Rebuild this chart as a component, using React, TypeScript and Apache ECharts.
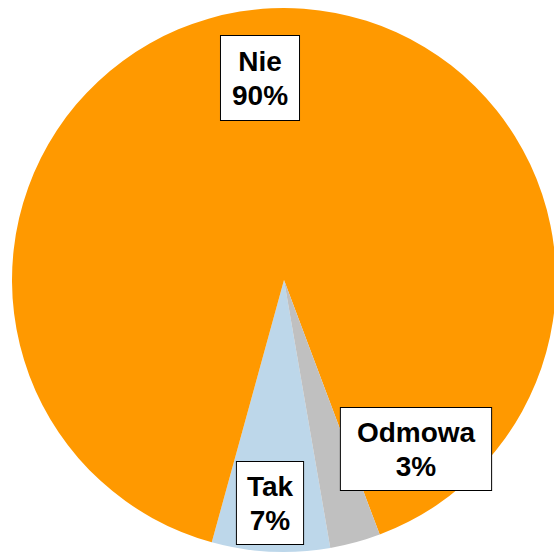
import React, { useEffect, useRef } from "react";
import * as echarts from "echarts";

const categories = ["Tak", "Nie", "Odmowa"];
const values = [7, 90, 3];
const colors = ["#BDD7EA", "#FF9900", "#C0C0C0"];
// label box centres and paddings (layout only)
const labelCentres: [number, number][] = [
  [270, 503],
  [260, 78],
  [416, 449],
];
const labelPaddings: number[][] = [
  [7, 10, 7, 10],
  [8, 11, 8, 11],
  [7, 16, 7, 16],
];

export default function App() {
  const ref = useRef<HTMLDivElement>(null);
  useEffect(() => {
    if (!ref.current) return;
    const chart = echarts.init(ref.current, null, { renderer: "svg" });
    chart.setOption({
      animation: false,
      backgroundColor: "#ffffff",
      series: [
        {
          type: "pie",
          center: [284, 280],
          radius: 272,
          startAngle: 279.8,
          clockwise: true,
          avoidLabelOverlap: false,
          percentPrecision: 0,
          data: categories.map((name, i) => ({
            name,
            value: values[i],
            itemStyle: { color: colors[i] },
            label: { padding: labelPaddings[i] },
          })),
          label: {
            show: true,
            position: "inside",
            formatter: "{b}\n{d}%",
            color: "#000",
            fontFamily: "Liberation Sans, Arial, sans-serif",
            fontSize: 28,
            fontWeight: "bold",
            lineHeight: 34,
            backgroundColor: "#fff",
            borderColor: "#000",
            borderWidth: 1,
            align: "center",
          },
          labelLine: { show: false },
          labelLayout: (params: any) => ({
            x: labelCentres[params.dataIndex][0],
            y: labelCentres[params.dataIndex][1],
            align: "center",
            verticalAlign: "middle",
          }),
          emphasis: { disabled: true },
        },
      ],
    });
    return () => chart.dispose();
  }, []);
  return (
    <div
      ref={ref}
      style={{ position: "absolute", left: 0, top: 0, width: 554, height: 553 }}
    />
  );
}
